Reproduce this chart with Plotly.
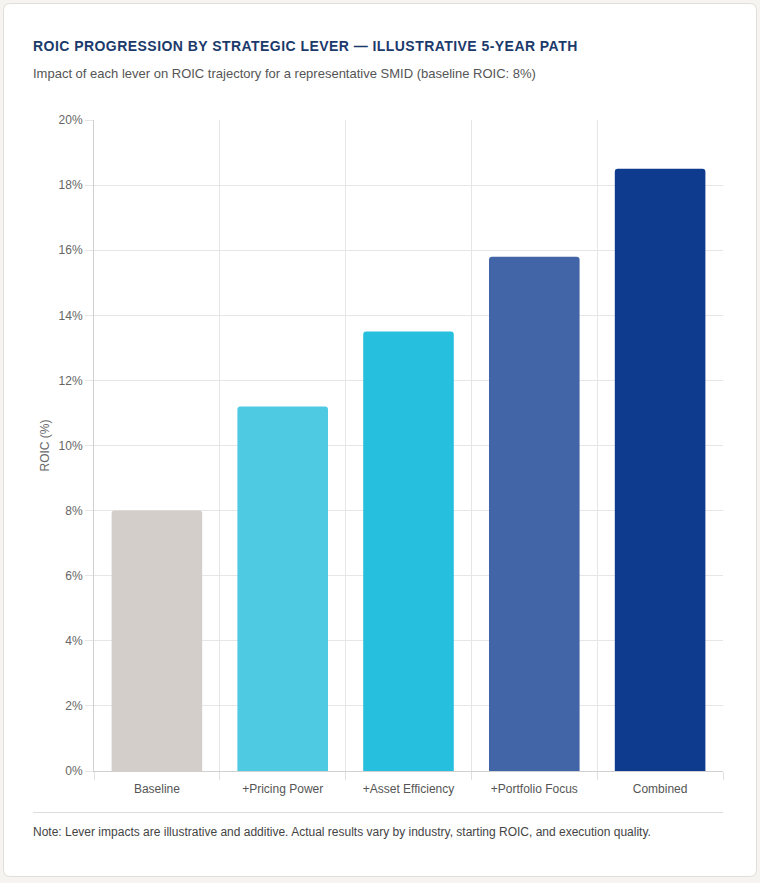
import plotly.graph_objects as go

categories = ["Baseline", "+Pricing Power", "+Asset Efficiency", "+Portfolio Focus", "Combined"]
roic_values = [8.0, 11.2, 13.5, 15.8, 18.5]
bar_colors = ["#d3cec9", "#4ecae3", "#26bfde", "#4265a7", "#0e3b8d"]
y_ticks = [0, 2, 4, 6, 8, 10, 12, 14, 16, 18, 20]
y_tick_labels = [f"{v}%" for v in y_ticks]

W, H = 760, 883
L, R, T, B = 94, 37, 120, 112

def px(x):
    return (x - L) / (W - L - R)

def py(y):
    return 1 - (y - T) / (H - T - B)

fig = go.Figure()
fig.add_trace(go.Bar(
    x=categories, y=roic_values,
    marker=dict(color=bar_colors, line=dict(width=0), cornerradius=3),
    width=0.72,
    hoverinfo="x+y",
))

font_family = "Liberation Sans, Arial, sans-serif"

# card background
x0, x1, y0, y1, r = px(3.5), px(756.5), py(3.5), py(876.5), 7
rx = r / (W - L - R)
ry = r / (H - T - B)

fig.update_layout(
    width=W, height=H,
    margin=dict(l=L, r=R, t=T, b=B, pad=0),
    paper_bgcolor="#f6f4f1",
    plot_bgcolor="rgba(0,0,0,0)",
    showlegend=False,
    bargap=0.28,
    font=dict(family=font_family, color="#666666", size=12),
    xaxis=dict(
        type="category",
        tickson="boundaries",
        showgrid=True, gridcolor="#e6e6e6", gridwidth=1,
        showline=True, linecolor="#d0d0d0", linewidth=1,
        ticks="outside", ticklen=8, tickcolor="#e0e0e0",
        tickfont=dict(size=12, color="#555555"),
        ticklabelstandoff=7,
        zeroline=False,
        range=[-0.5, 4.5],
        fixedrange=True,
    ),
    yaxis=dict(
        range=[0, 20],
        tickvals=y_ticks, ticktext=y_tick_labels,
        showgrid=True, gridcolor="#e6e6e6", gridwidth=1,
        showline=True, linecolor="#d0d0d0", linewidth=1,
        ticks="outside", ticklen=8, tickcolor="#e6e6e6",
        tickfont=dict(size=12, color="#666666"),
        zeroline=False,
        title=dict(text="ROIC (%)", font=dict(size=12, color="#666666"), standoff=6),
        fixedrange=True,
    ),
    shapes=[
        dict(type="path", xref="paper", yref="paper", layer="below",
             path=(f"M {x0+rx},{y0} L {x1-rx},{y0} Q {x1},{y0} {x1},{y0-ry} "
                   f"L {x1},{y1+ry} Q {x1},{y1} {x1-rx},{y1} "
                   f"L {x0+rx},{y1} Q {x0},{y1} {x0},{y1+ry} "
                   f"L {x0},{y0-ry} Q {x0},{y0} {x0+rx},{y0} Z"),
             fillcolor="#ffffff", line=dict(color="#e2ded9", width=1)),
        dict(type="line", xref="paper", yref="paper",
             x0=px(33), x1=px(723), y0=py(812.5), y1=py(812.5),
             line=dict(color="#dddddd", width=1)),
    ],
    annotations=[
        dict(text="<b>ROIC PROGRESSION BY STRATEGIC LEVER — ILLUSTRATIVE 5-YEAR PATH</b>",
             xref="paper", yref="paper", x=px(45), y=py(46), xanchor="left", yanchor="middle",
             showarrow=False, font=dict(size=14, color="#1b3a6b", family=font_family)),
        dict(text="Impact of each lever on ROIC trajectory for a representative SMID (baseline ROIC: 8%)",
             xref="paper", yref="paper", x=px(31), y=py(74), xanchor="left", yanchor="middle",
             showarrow=False, font=dict(size=13, color="#555555", family=font_family)),
        dict(text="Note: Lever impacts are illustrative and additive. Actual results vary by industry, starting ROIC, and execution quality.",
             xref="paper", yref="paper", x=px(31), y=py(832), xanchor="left", yanchor="middle",
             showarrow=False, font=dict(size=12, color="#444444", family=font_family)),
    ],
)

fig.write_html(
    "out.html", config={"displayModeBar": False},
    post_script=(
        "document.body.style.margin='0';"
        "var t=document.querySelector('.annotation-text');"
        "if(t){t.style.letterSpacing='0.45px';}"
    ),
)
